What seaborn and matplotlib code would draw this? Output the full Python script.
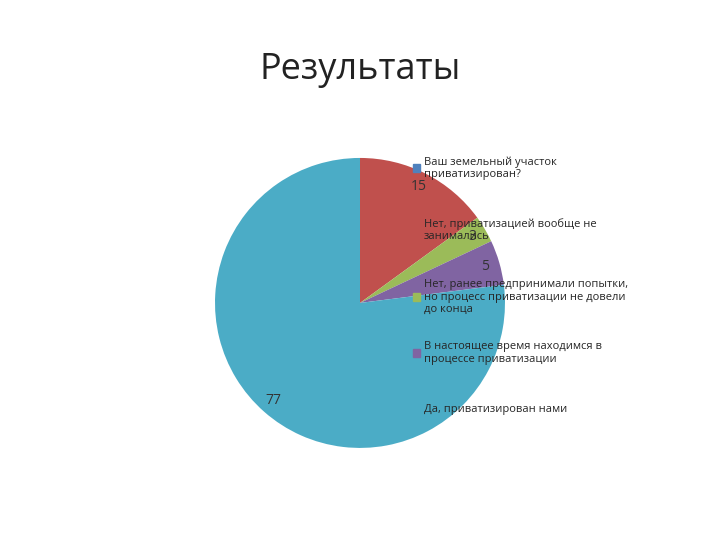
import matplotlib
matplotlib.use("Agg")
import matplotlib.pyplot as plt
import seaborn as sns
from matplotlib.patches import Patch

sns.set_theme(style="white")
plt.rcParams['font.family'] = ['Open Sans', 'DejaVu Sans']

series_title = "Ваш земельный участок\nприватизирован?"
categories = ["Нет, приватизацией вообще не\nзанимались",
              "Нет, ранее предпринимали попытки,\nно процесс приватизации не довели\nдо конца",
              "В настоящее время находимся в\nпроцессе приватизации",
              "Да, приватизирован нами"]
values = [15, 3, 5, 77]
colors = ["#C0504D", "#9BBB59", "#8064A2", "#4BACC6"]

fig = plt.figure(figsize=(7.2, 5.4), dpi=100)
ax = fig.add_axes([0.5 - 0.2014, 0.439 - 0.2685, 0.4028, 0.537])
ax.pie(values, colors=colors, startangle=90, counterclock=False, radius=1,
       wedgeprops=dict(linewidth=0),
       autopct=lambda p: f"{p*sum(values)/100:.0f}", pctdistance=0.9,
       textprops=dict(fontsize=10, color="#333333"))
ax.set_xlim(-1, 1); ax.set_ylim(-1, 1); ax.set_aspect("equal")
ax.axis("off")

fig.text(0.5, 0.87, "Результаты", ha="center", va="center", fontsize=26, color="#222222")

handles = [Patch(color="#4F81BD")] + [Patch(color=c) for c in colors]
labels = [series_title] + categories
tops = [156, 218, 279, 341, 404]
for h, l, t in zip(handles, labels, tops):
    leg = fig.legend([h], [l], loc="upper left", bbox_to_anchor=(0.573, 1 - t / 540),
                     frameon=False, fontsize=8, handlelength=0.7, handleheight=0.7,
                     handletextpad=0.3, borderaxespad=0, borderpad=0)
    leg._legend_box.align = "left"
fig.savefig("out.png", dpi=100)
